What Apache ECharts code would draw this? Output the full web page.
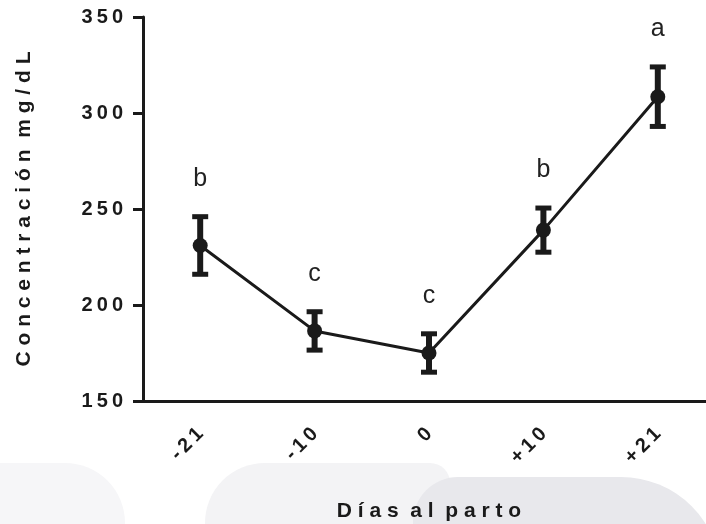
<!DOCTYPE html>
<html>
<head>
<meta charset="utf-8">
<script src="https://cdn.jsdelivr.net/npm/echarts@6/dist/echarts.min.js"></script>
<style>
  html, body { margin: 0; padding: 0; background: #ffffff; }
  #chart { width: 706px; height: 524px; }
</style>
</head>
<body>
<div id="chart"></div>
<script>
// Days relative to calving, mean concentration (mg/dL) and error
const days = ['-21', '-10', '0', '+10', '+21'];
const meanValues = [231, 186.5, 175, 239, 308.5];
const errValues = [15, 10, 10, 11.5, 15.5];
const groupLetters = ['b', 'c', 'c', 'b', 'a'];
const yTicks = [150, 200, 250, 300, 350];

const ink = '#1a1a1a';
const fontFamily = '"Liberation Sans", Arial, Helvetica, sans-serif';

// wide tracking: a space between letters, two between words
function spaced(s) {
  return s.split(' ').map(w => w.split('').join(' ')).join('  ');
}
// slightly tighter tracking for numbers (thin space)
function tracked(s) {
  return s.split('').join('\u2009');
}

const errData = days.map((d, i) => [i, meanValues[i] + errValues[i], meanValues[i] - errValues[i]]);

function renderErr(params, api) {
  const i = api.value(0);
  const top = api.coord([i, api.value(1)]);
  const bot = api.coord([i, api.value(2)]);
  const x = top[0];
  const capW = 16, capH = 5, stemW = 6;
  return {
    type: 'group',
    children: [
      { type: 'rect', shape: { x: x - stemW / 2, y: top[1], width: stemW, height: bot[1] - top[1] }, style: { fill: ink } },
      { type: 'rect', shape: { x: x - capW / 2, y: top[1] - capH / 2, width: capW, height: capH }, style: { fill: ink } },
      { type: 'rect', shape: { x: x - capW / 2, y: bot[1] - capH / 2, width: capW, height: capH }, style: { fill: ink } },
      {
        type: 'text', x: x, y: top[1] - 38,
        style: {
          text: groupLetters[params.dataIndex], fill: '#222222',
          font: '25px ' + fontFamily, textAlign: 'center', textVerticalAlign: 'middle'
        }
      }
    ]
  };
}

const chart = echarts.init(document.getElementById('chart'), null, { renderer: 'canvas' });

chart.setOption({
  backgroundColor: '#ffffff',
  animation: false,
  graphic: [
    { type: 'rect', z: -10, silent: true, shape: { x: -100, y: 463, width: 225, height: 120, r: [0, 60, 0, 0] }, style: { fill: '#f6f6f8' } },
    { type: 'rect', z: -10, silent: true, shape: { x: 205, y: 463, width: 245, height: 120, r: [60, 20, 0, 0] }, style: { fill: '#f3f3f5' } },
    { type: 'rect', z: -9, silent: true, shape: { x: 413, y: 477, width: 308, height: 120, r: [45, 100, 0, 0] }, style: { fill: '#e8e8ec' } }
  ],
  grid: { left: 143, top: 17, width: 572, height: 384, containLabel: false, outerBoundsMode: 'none' },
  xAxis: {
    type: 'category',
    data: days,
    boundaryGap: true,
    name: spaced('Días al parto'),
    nameLocation: 'middle',
    nameGap: 100,
    nameTextStyle: { fontSize: 21, fontWeight: 'bold', color: ink, fontFamily: fontFamily },
    axisLine: { lineStyle: { color: ink, width: 3 } },
    axisTick: { alignWithLabel: true, length: 10, lineStyle: { color: ink, width: 3 } },
    axisLabel: {
      rotate: 45, margin: 30, fontSize: 20, fontWeight: 'bold', color: ink, fontFamily: fontFamily,
      formatter: v => tracked(v)
    },
    splitLine: { show: false }
  },
  yAxis: {
    type: 'value',
    min: yTicks[0],
    max: yTicks[yTicks.length - 1],
    interval: 50,
    name: spaced('Concentración mg/dL'),
    nameLocation: 'middle',
    nameGap: 108,
    nameRotate: 90,
    nameTextStyle: { fontSize: 21, fontWeight: 'bold', color: ink, fontFamily: fontFamily },
    axisLine: { show: true, lineStyle: { color: ink, width: 3 } },
    axisTick: { show: true, length: 10, lineStyle: { color: ink, width: 3 } },
    axisLabel: {
      margin: 20, fontSize: 20, fontWeight: 'bold', color: ink, fontFamily: fontFamily,
      formatter: v => tracked(String(v))
    },
    splitLine: { show: false }
  },
  series: [
    {
      type: 'custom',
      renderItem: renderErr,
      data: errData,
      encode: { x: 0, y: [1, 2] },
      z: 3,
      silent: true
    },
    {
      type: 'line',
      data: meanValues,
      symbol: 'circle',
      symbolSize: 15,
      lineStyle: { color: ink, width: 3 },
      itemStyle: { color: ink },
      z: 4,
      silent: true
    }
  ]
});
</script>
</body>
</html>
